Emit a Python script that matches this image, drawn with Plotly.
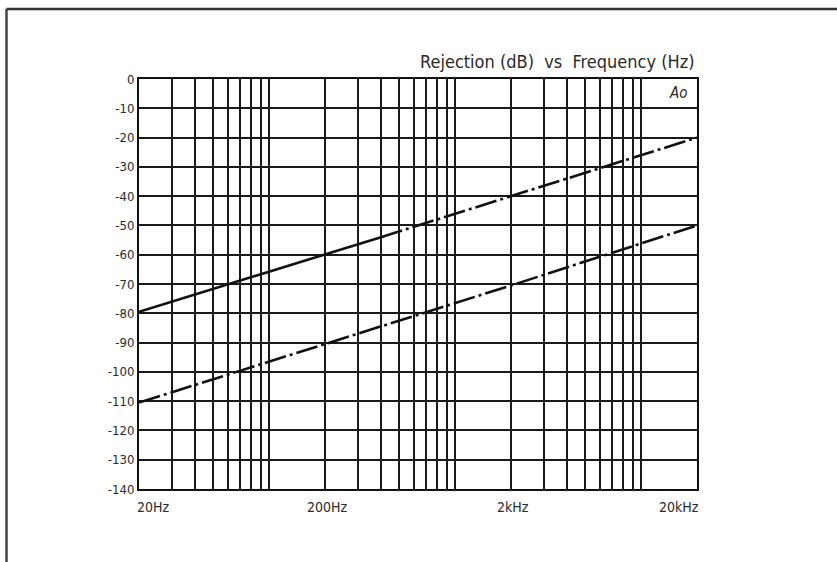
import math
import plotly.graph_objects as go

# ---- data ----
line1_freq = [20, 200, 400, 2000, 20000]
line1_db = [-79.5, -60, -54, -40, -20]
line2_freq = [20, 200, 2000, 20000]
line2_db = [-110.5, -90.5, -70.5, -50]

y_ticks = [0, -10, -20, -30, -40, -50, -60, -70, -80, -90, -100, -110, -120, -130, -140]
y_tick_labels = ["0", "-10", "-20", "-30", "-40", "-50", "-60", "-70", "-80", "-90",
                 "-100", "-110", "-120", "-130", "-140"]
x_label_freqs = [20, 200, 2000, 20000]
x_label_texts = ["20Hz", "200Hz", "2kHz", "20kHz"]
grid_freqs = [m * 10 ** d for d in range(1, 5) for m in range(1, 10)
              if 20 <= m * 10 ** d <= 20000]

title_text = "Rejection (dB)  vs  Frequency (Hz)"
corner_text = "Ao"

FONT = "DejaVu Sans Condensed, Liberation Sans Narrow, Arial Narrow, sans-serif"
W, H = 837, 562
L, R, T, B = 139, 140, 79, 73
pw, ph = W - L - R, H - T - B


def px_x(p):
    return (p - L) / pw


def px_y(p):
    return (H - B - p) / ph


fig = go.Figure()
# line 1: solid part then dash-dot
fig.add_trace(go.Scatter(x=line1_freq[:3], y=line1_db[:3], mode="lines",
                         line=dict(color="#111", width=2.6), showlegend=False))
fig.add_trace(go.Scatter(x=line1_freq[2:], y=line1_db[2:], mode="lines",
                         line=dict(color="#111", width=2.6, dash="22px,4px,3px,4px"),
                         showlegend=False))
fig.add_trace(go.Scatter(x=line2_freq, y=line2_db, mode="lines",
                         line=dict(color="#111", width=2.6, dash="22px,4px,3px,4px"),
                         showlegend=False))

fig.update_xaxes(type="log", range=[math.log10(20), math.log10(20000)],
                 tickvals=grid_freqs, showticklabels=False, ticks="",
                 showgrid=True, gridcolor="#1a1a1a", gridwidth=1.7,
                 showline=True, mirror=True, linecolor="#111", linewidth=2,
                 zeroline=False)
fig.update_yaxes(range=[-140, 0], tickvals=y_ticks, ticktext=y_tick_labels,
                 ticks="", showgrid=True, gridcolor="#1a1a1a", gridwidth=1.7,
                 showline=True, mirror=True, linecolor="#111", linewidth=2,
                 zeroline=False, tickfont=dict(family=FONT, size=13, color="#2a2a2a"))

ann = []
for i, (f, t) in enumerate(zip(x_label_freqs, x_label_texts)):
    if i == 0:
        xa, xs = "left", -4
    elif i == len(x_label_freqs) - 1:
        xa, xs = "right", 4
    else:
        xa, xs = "center", 2
    ann.append(dict(x=math.log10(f), y=px_y(507), xref="x", yref="paper", text=t,
                    showarrow=False, xanchor=xa, yanchor="middle", xshift=xs,
                    font=dict(family=FONT, size=14, color="#2a2a2a")))
ann.append(dict(x=1, y=px_y(62), xref="paper", yref="paper",
                text=title_text, showarrow=False, xanchor="right", yanchor="middle",
                font=dict(family=FONT, size=18, color="#2a2a2a")))
ann.append(dict(x=px_x(689), y=px_y(93), xref="paper", yref="paper",
                text="<i>" + corner_text + "</i>", showarrow=False, xanchor="right",
                yanchor="middle", font=dict(family=FONT, size=15, color="#2a2a2a")))

shapes = [
    dict(type="line", xref="paper", yref="paper", x0=px_x(6.5), x1=px_x(845),
         y0=px_y(9), y1=px_y(9), line=dict(color="#333", width=2.5)),
    dict(type="line", xref="paper", yref="paper", x0=px_x(6.5), x1=px_x(6.5),
         y0=px_y(9), y1=px_y(570), line=dict(color="#444", width=2.5)),
]

fig.update_layout(width=W, height=H, margin=dict(l=L, r=R, t=T, b=B),
                  paper_bgcolor="white", plot_bgcolor="white",
                  annotations=ann, shapes=shapes, showlegend=False)
fig.write_html("out.html")
